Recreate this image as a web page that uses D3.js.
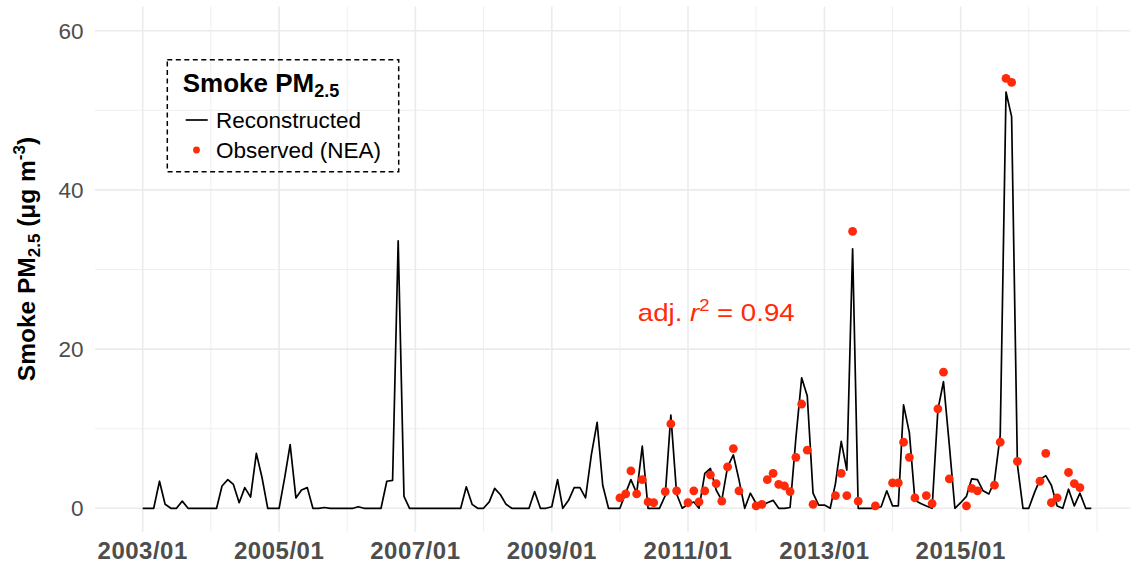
<!DOCTYPE html>
<html>
<head>
<meta charset="utf-8">
<script src="https://cdn.jsdelivr.net/npm/d3@7"></script>
<style>
  body { margin: 0; background: #fff; }
  svg { display: block; font-family: "Liberation Sans", Arial, Helvetica, sans-serif; }
</style>
</head>
<body>
<div id="main"></div>
<script>
/// Data ///
// reconstructed smoke PM2.5, one value per month starting 2003/01
const startYear = 2003;
const reconstructed = [
    0, 0, 0, 3.4, 0.5, 0, 0, 0.9, 0, 0,
    0, 0, 0, 0, 2.8, 3.6, 3.0, 0.7, 2.6, 1.4,
    6.9, 3.9, 0, 0, 0, 4.0, 8.0, 1.3, 2.3, 2.6,
    0, 0, 0.1, 0, 0, 0, 0, 0, 0.2, 0,
    0, 0, 0, 3.4, 3.5, 33.6, 1.5, 0, 0, 0,
    0, 0, 0, 0, 0, 0, 0, 2.7, 0.5, 0,
    0, 0.8, 2.5, 1.7, 0.5, 0, 0, 0, 0, 2.1,
    0, 0, 0.2, 3.6, 0, 1.0, 2.6, 2.6, 1.3, 6.7,
    10.8, 2.9, 0, 0, 0, 1.9, 3.6, 1.9, 7.8, 0,
    0, 0, 1.6, 11.7, 1.8, 0, 0.5, 0.8, 0, 4.4,
    5.0, 2.3, 1.0, 5.2, 6.7, 3.6, 0, 1.9, 0.6, 0.4,
    0.7, 1.0, 0, 0, 0.1, 8.8, 16.4, 14.1, 1.9, 0.4,
    0.4, 0, 3.1, 8.4, 4.8, 32.6, 0, 0, 0, 0,
    0.2, 2.2, 0.3, 0.3, 13.0, 9.5, 1.0, 0.6, 0.3, 0,
    12.4, 15.9, 8.0, 0, 0.7, 1.5, 3.7, 3.6, 2.2, 1.8,
    3.4, 9.2, 52.3, 49.2, 5.5, 0, 0, 2.0, 3.6, 4.1,
    2.9, 0.3, 0, 2.4, 0.3, 1.9, 0, 0
];

// observed (NEA) months, counted from 2003/01, and their values
const observedMonth = [84, 85, 86, 87, 88, 89, 90, 92, 93, 94,
    96, 97, 98, 99, 100, 101, 102, 103, 104, 105,
    108, 109, 110, 111, 112, 113, 114, 115, 116, 117, 118,
    122, 123, 124, 125, 126, 129, 132, 133, 134, 135, 136,
    138, 139, 140, 141, 142, 145, 146, 147, 150, 151, 152, 153, 154,
    158, 159, 160, 161, 163, 164, 165];
const observedValue = [1.3, 1.8, 4.7, 1.8, 3.6, 0.8, 0.7, 2.1, 10.6, 2.2,
    0.7, 2.2, 0.8, 2.2, 4.2, 3.1, 0.9, 5.2, 7.5, 2.2,
    0.3, 0.5, 3.6, 4.4, 3.0, 2.8, 2.1, 6.4, 13.1, 7.3, 0.5,
    1.6, 4.4, 1.6, 34.8, 0.9, 0.3, 3.2, 3.2, 8.3, 6.4, 1.3,
    1.6, 0.6, 12.5, 17.1, 3.7, 0.3, 2.5, 2.2, 2.9, 8.3, 54.0, 53.5, 5.9,
    3.4, 6.9, 0.7, 1.3, 4.5, 3.1, 2.6];

const xTickLabels = ['2003/01', '2005/01', '2007/01', '2009/01', '2011/01', '2013/01', '2015/01'];
const xMinorLabels = ['2004/01', '2006/01', '2008/01', '2010/01', '2012/01', '2014/01', '2016/01', '2017/01'];
const yTicks = [0, 20, 40, 60];
const yMinorTicks = [10, 30, 50];

/// Setup ///
const w = 1130;
const h = 565;
const red = '#ff2a0a';
const grey = '#4d4d4d';
const panel = { left: 95, right: 1140, top: 6.5, bottom: 531.7 };

const monthDate = i => new Date(startYear, i, 1);
const parseTick = d3.timeParse('%Y/%m');

const x = d3.scaleTime()
            .domain([monthDate(0), monthDate(reconstructed.length - 1)])
            .range([142.7, 1091.3]);

const y = d3.scaleLinear()
            .domain([0, 60])
            .range([508.3, 30.7]);

const svg = d3.select('#main')
            .append('svg')
            .attr('width', w)
            .attr('height', h);

/// Grid ///
const grid = svg.append('g').attr('stroke', '#ebebeb');

grid.selectAll('.yminor')
    .data(yMinorTicks)
    .enter()
    .append('line')
    .attr('x1', panel.left).attr('x2', panel.right)
    .attr('y1', d => y(d)).attr('y2', d => y(d))
    .attr('stroke-width', 0.8);

grid.selectAll('.xminor')
    .data(xMinorLabels)
    .enter()
    .append('line')
    .attr('x1', d => x(parseTick(d))).attr('x2', d => x(parseTick(d)))
    .attr('y1', panel.top).attr('y2', panel.bottom)
    .attr('stroke-width', 0.8);

grid.selectAll('.ymajor')
    .data(yTicks)
    .enter()
    .append('line')
    .attr('x1', panel.left).attr('x2', panel.right)
    .attr('y1', d => y(d)).attr('y2', d => y(d))
    .attr('stroke-width', 1.6);

grid.selectAll('.xmajor')
    .data(xTickLabels)
    .enter()
    .append('line')
    .attr('x1', d => x(parseTick(d))).attr('x2', d => x(parseTick(d)))
    .attr('y1', panel.top).attr('y2', panel.bottom)
    .attr('stroke-width', 1.6);

/// Axes labels ///
svg.append('g')
    .selectAll('text')
    .data(yTicks)
    .enter()
    .append('text')
    .attr('x', 83.5)
    .attr('y', d => y(d) + 8)
    .attr('text-anchor', 'end')
    .style('font-size', '22.5px')
    .style('fill', grey)
    .text(d => d);

svg.append('g')
    .selectAll('text')
    .data(xTickLabels)
    .enter()
    .append('text')
    .attr('x', d => x(parseTick(d)))
    .attr('y', 559.3)
    .attr('text-anchor', 'middle')
    .style('font-size', '24px')
    .style('letter-spacing', '0.5px')
    .style('font-weight', 'bold')
    .style('fill', grey)
    .text(d => d);

// y title with sub- and superscripts
const yTitle = svg.append('text')
    .attr('transform', 'translate(35,259) rotate(-90)')
    .attr('text-anchor', 'middle')
    .style('font-size', '24.5px')
    .style('font-weight', 'bold')
    .style('fill', '#000');
yTitle.append('tspan').text('Smoke PM');
yTitle.append('tspan').attr('dy', 5).style('font-size', '17px').text('2.5');
yTitle.append('tspan').attr('dy', -5).text(' (μg m');
yTitle.append('tspan').attr('dy', -10).style('font-size', '17px').text('-3');
yTitle.append('tspan').attr('dy', 10).text(')');

/// Series ///
const line = d3.line()
    .x((d, i) => x(monthDate(i)))
    .y(d => y(d));

svg.append('path')
    .datum(reconstructed)
    .attr('d', line)
    .attr('fill', 'none')
    .attr('stroke', '#000')
    .attr('stroke-width', 1.7)
    .attr('stroke-linejoin', 'round');

svg.append('g')
    .selectAll('circle')
    .data(observedMonth)
    .enter()
    .append('circle')
    .attr('cx', d => x(monthDate(d)))
    .attr('cy', (d, i) => y(observedValue[i]))
    .attr('r', 4.4)
    .attr('fill', red);

/// Annotation ///
// plotmath text is a bit wider than plain text, so stretch it horizontally
const r2 = svg.append('text')
    .attr('transform', `translate(${x(new Date(2011, 5, 1))},${y(23.5)}) scale(1.15,1)`)
    .attr('text-anchor', 'middle')
    .style('font-size', '24px')
    .style('fill', red);
r2.append('tspan').text('adj. ');
r2.append('tspan').style('font-style', 'italic').text('r');
r2.append('tspan').attr('dy', -10).style('font-size', '16px').text('2');
r2.append('tspan').attr('dy', 10).text(' = 0.94');

/// Legend ///
const legend = svg.append('g');

legend.append('rect')
    .attr('x', 167.3).attr('y', 59.7)
    .attr('width', 231.4).attr('height', 112)
    .attr('fill', 'none')
    .attr('stroke', '#000')
    .attr('stroke-width', 1.5)
    .attr('stroke-dasharray', '5,3.5');

const lTitle = legend.append('text')
    .attr('x', 182.7).attr('y', 92)
    .style('font-size', '26px')
    .style('font-weight', 'bold');
lTitle.append('tspan').text('Smoke PM');
lTitle.append('tspan').attr('dy', 5).style('font-size', '18px').text('2.5');

legend.append('line')
    .attr('x1', 185.7).attr('x2', 207.7)
    .attr('y1', 120).attr('y2', 120)
    .attr('stroke', '#000')
    .attr('stroke-width', 1.7);

legend.append('circle')
    .attr('cx', 196.5).attr('cy', 150)
    .attr('r', 3.4)
    .attr('fill', red);

legend.selectAll('.legendText')
    .data(['Reconstructed', 'Observed (NEA)'])
    .enter()
    .append('text')
    .attr('x', 216)
    .attr('y', (d, i) => 128 + i * 29.7)
    .style('font-size', '22.5px')
    .text(d => d);
</script>
</body>
</html>
